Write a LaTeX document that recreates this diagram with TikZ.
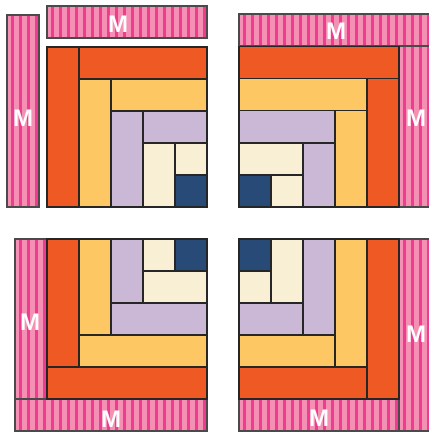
\documentclass[tikz,border=0pt]{standalone}
\usepackage{fontspec}
\setmainfont{Liberation Sans}
\definecolor{qorange}{HTML}{EF5A24}
\definecolor{qyellow}{HTML}{FDC864}
\definecolor{qlav}{HTML}{CBB7D6}
\definecolor{qcream}{HTML}{F8EFD4}
\definecolor{qnavy}{HTML}{274B76}
\definecolor{pinkA}{HTML}{F590B5}
\definecolor{pinkB}{HTML}{EE3C8E}
\definecolor{qborder}{HTML}{262626}
\definecolor{mgrey}{HTML}{4A4A4A}
\newcommand{\mstrip}[4]{%
  \begin{scope}
    \clip (#1,#2) rectangle (#3,#4);
    \fill[pinkA] (#1,#2) rectangle (#3,#4);
    \foreach \i in {0,...,25} \fill[pinkB] ({#1+4+8*\i},#2) rectangle ({#1+6.5+8*\i},#4);
  \end{scope}
  \draw[mborder] (#1,#2) rectangle (#3,#4);}
\newcommand{\qcell}[5]{\draw[cellbox,fill=#1] (#2,#3) rectangle (#4,#5);}
\begin{document}
\begin{tikzpicture}[x=1pt,y=-1pt,
  cellbox/.style={draw=qborder,line width=1.4pt},
  mborder/.style={draw=mgrey,line width=1.4pt},
  mlabel/.style={text=white,font=\fontsize{24}{24}\selectfont\bfseries,inner sep=0pt}]
\useasboundingbox (0,0) rectangle (428,433);
% ---------- top-left
\mstrip{7}{15}{39}{207}
\mstrip{47}{6}{207}{38}
\begin{scope}[shift={(47pt,-47pt)},x=32pt,y=-32pt]
\qcell{qorange}{0}{0}{1}{5}
\qcell{qorange}{1}{0}{5}{1}
\qcell{qyellow}{1}{1}{2}{5}
\qcell{qyellow}{2}{1}{5}{2}
\qcell{qlav}{2}{2}{3}{5}
\qcell{qlav}{3}{2}{5}{3}
\qcell{qcream}{3}{3}{4}{5}
\qcell{qcream}{4}{3}{5}{4}
\qcell{qnavy}{4}{4}{5}{5}
\end{scope}
\node[mlabel] (m1) at (23,118) {M};
\node[mlabel] (m2) at (118,24) {M};
% ---------- top-right
\mstrip{239}{14}{431}{46}
\mstrip{399}{46}{431}{207}
\begin{scope}[shift={(239pt,-46.5pt)},x=32pt,y=-32.1pt]
\qcell{qorange}{0}{0}{5}{1}
\qcell{qorange}{4}{1}{5}{5}
\qcell{qyellow}{0}{1}{4}{2}
\qcell{qyellow}{3}{2}{4}{5}
\qcell{qlav}{0}{2}{3}{3}
\qcell{qlav}{2}{3}{3}{5}
\qcell{qcream}{0}{3}{2}{4}
\qcell{qcream}{1}{4}{2}{5}
\qcell{qnavy}{0}{4}{1}{5}
\end{scope}
\node[mlabel] (m3) at (336,31) {M};
\node[mlabel] (m4) at (416,118) {M};
% ---------- bottom-left
\mstrip{15}{239}{47}{399}
\mstrip{15}{399}{207}{431}
\begin{scope}[shift={(47pt,-239pt)},x=32pt,y=-32pt]
\qcell{qorange}{0}{0}{1}{4}
\qcell{qorange}{0}{4}{5}{5}
\qcell{qyellow}{1}{0}{2}{3}
\qcell{qyellow}{1}{3}{5}{4}
\qcell{qlav}{2}{0}{3}{2}
\qcell{qlav}{2}{2}{5}{3}
\qcell{qcream}{3}{0}{4}{1}
\qcell{qcream}{3}{1}{5}{2}
\qcell{qnavy}{4}{0}{5}{1}
\end{scope}
\node[mlabel] (m5) at (30,322) {M};
\node[mlabel] (m6) at (111,419) {M};
% ---------- bottom-right
\mstrip{399}{239}{431}{431}
\mstrip{239}{399}{399}{431}
\begin{scope}[shift={(239pt,-239pt)},x=32pt,y=-32pt]
\qcell{qnavy}{0}{0}{1}{1}
\qcell{qcream}{0}{1}{1}{2}
\qcell{qcream}{1}{0}{2}{2}
\qcell{qlav}{0}{2}{2}{3}
\qcell{qlav}{2}{0}{3}{3}
\qcell{qyellow}{0}{3}{3}{4}
\qcell{qyellow}{3}{0}{4}{4}
\qcell{qorange}{0}{4}{4}{5}
\qcell{qorange}{4}{0}{5}{5}
\end{scope}
\node[mlabel] (m7) at (416,334) {M};
\node[mlabel] (m8) at (319,418) {M};
\end{tikzpicture}
\end{document}
